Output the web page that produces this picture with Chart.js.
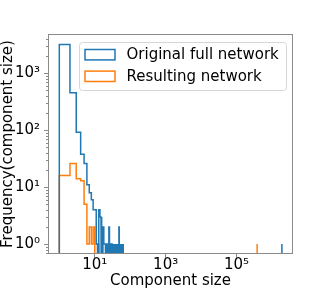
<!DOCTYPE html>
<html>
<head>
<meta charset="utf-8">
<script src="https://cdn.jsdelivr.net/npm/chart.js@4"></script>
<style>
  body { margin: 0; background: #fff; }
  canvas { display: block; }
</style>
</head>
<body>
<canvas id="chart" width="314" height="290"></canvas>
<script>
// component sizes (integer bins, left edge) and how often each occurs
const originalSizes  = [1, 2, 3, 4, 5, 6, 7, 8, 9, 10, 11, 13, 14, 15, 17, 18, 19, 21, 22, 25, 26, 28, 30, 33, 35, 38, 41, 44, 48, 52, 57, 63, 1900000];
const originalCounts = [3200, 457, 92, 38, 26, 11, 8, 6, 4, 4, 1, 4, 3, 1, 2, 1, 1, 1, 1, 2, 1, 1, 1, 1, 1, 1, 1, 1, 2, 1, 1, 1, 1];

const resultSizes  = [1, 2, 3, 4, 5, 6, 7, 8, 9, 12, 380000];
const resultCounts = [16, 26, 14, 13, 5, 1, 2, 1, 2, 1, 1];

const seriesNames = ['Original full network', 'Resulting network'];
const seriesColors = ['#1f77b4', '#ff7f0e'];

const yTickValues = [1, 10, 100, 1000];
const xTickValues = [10, 1000, 100000];

const SUP = { '0': '\u2070', '1': '\u00b9', '2': '\u00b2', '3': '\u00b3', '4': '\u2074', '5': '\u2075', '6': '\u2076' };
const FONT = 'DejaVu Sans';
const SPINE = '#8a8a8a';

// turn histogram bins into a step outline (like histtype='step')
function stepOutline(sizes, counts) {
    const floor = 1e-3; // below the axis, gets clipped
    const pts = [];
    let prevEnd = null;
    sizes.forEach((s, i) => {
        const end = s + 1;
        if (prevEnd === null || s !== prevEnd) {
            if (prevEnd !== null) pts.push({ x: prevEnd, y: floor });
            pts.push({ x: s, y: floor });
        }
        pts.push({ x: s, y: counts[i] });
        pts.push({ x: end, y: counts[i] });
        prevEnd = end;
    });
    pts.push({ x: prevEnd, y: floor });
    return pts;
}

function powLabel(v) {
    const e = Math.round(Math.log10(v));
    return '10' + String(e).split('').map(d => SUP[d]).join('');
}

// frame + minor ticks, drawn on top of the data like matplotlib spines
const framePlugin = {
    id: 'frame',
    afterDatasetsDraw(chart) {
        const { ctx, chartArea: a, scales } = chart;
        ctx.save();
        ctx.strokeStyle = SPINE;
        ctx.lineWidth = 1;
        ctx.strokeRect(a.left + 0.5, a.top + 0.5, a.right - a.left - 1, a.bottom - a.top - 1);
        // y minor ticks
        const y = scales.y;
        ctx.beginPath();
        for (let d = -1; d <= 3; d++) {
            for (let m = 2; m <= 9; m++) {
                const v = m * Math.pow(10, d);
                if (v < y.min || v > y.max) continue;
                const py = Math.round(y.getPixelForValue(v)) + 0.5;
                ctx.moveTo(a.left, py);
                ctx.lineTo(a.left - 2, py);
            }
        }
        ctx.stroke();
        ctx.restore();
    }
};

// legend box in the upper right of the axes
const legendPlugin = {
    id: 'boxLegend',
    afterDraw(chart) {
        const { ctx } = chart;
        const box = { x: 79.5, y: 42.5, w: 207, h: 48 };
        ctx.save();
        ctx.beginPath();
        ctx.roundRect(box.x, box.y, box.w, box.h, 3);
        ctx.fillStyle = 'rgba(255,255,255,0.8)';
        ctx.fill();
        ctx.strokeStyle = '#d6d6d6';
        ctx.lineWidth = 1;
        ctx.stroke();

        chart.data.datasets.forEach((ds, i) => {
            const cy = 54.7 + i * 21.6;
            ctx.strokeStyle = ds.borderColor;
            ctx.lineWidth = 1.5;
            ctx.strokeRect(85, cy - 5.2, 30, 10.4);
            ctx.fillStyle = '#000';
            ctx.font = '15px "' + FONT + '"';
            ctx.textAlign = 'left';
            ctx.textBaseline = 'middle';
            ctx.fillText(ds.label, 126.5, cy + 0.5);
        });
        ctx.restore();
    }
};

Chart.defaults.font.family = FONT;
Chart.defaults.font.size = 15;
Chart.defaults.color = '#000';

new Chart(document.getElementById('chart'), {
    type: 'line',
    data: {
        datasets: [
            {
                label: seriesNames[0],
                data: stepOutline(originalSizes, originalCounts),
                borderColor: seriesColors[0],
                borderWidth: 1.5,
                pointRadius: 0,
                fill: false,
                tension: 0
            },
            {
                label: seriesNames[1],
                data: stepOutline(resultSizes, resultCounts),
                borderColor: seriesColors[1],
                borderWidth: 1.5,
                pointRadius: 0,
                fill: false,
                tension: 0
            }
        ]
    },
    options: {
        responsive: false,
        animation: false,
        devicePixelRatio: 1,
        parsing: false,
        layout: { padding: { left: 0, top: 34, right: 21, bottom: 0 } },
        plugins: {
            legend: { display: false },
            tooltip: { enabled: false }
        },
        scales: {
            x: {
                type: 'logarithmic',
                min: 0.48,
                max: 3.9e6,
                afterBuildTicks: scale => { scale.ticks = xTickValues.map(v => ({ value: v })); },
                afterFit: scale => { scale.height = 36; },
                border: { display: false },
                grid: { drawOnChartArea: false, drawTicks: true, tickLength: 4, tickColor: SPINE },
                ticks: {
                    autoSkip: false,
                    maxRotation: 0,
                    padding: 0,
                    font: { size: 15, lineHeight: 1 },
                    callback: v => powLabel(v)
                },
                title: {
                    display: true,
                    text: 'Component size',
                    font: { size: 15, lineHeight: 1 },
                    padding: { top: 0, bottom: 1.5 }
                }
            },
            y: {
                type: 'logarithmic',
                min: 0.67,
                max: 4900,
                afterBuildTicks: scale => { scale.ticks = yTickValues.map(v => ({ value: v })); },
                afterFit: scale => { scale.width = 48; },
                border: { display: false },
                grid: { drawOnChartArea: false, drawTicks: true, tickLength: 4, tickColor: SPINE },
                ticks: {
                    autoSkip: false,
                    padding: 4,
                    font: { size: 15, lineHeight: 1 },
                    callback: v => powLabel(v)
                },
                title: {
                    display: true,
                    text: 'Frequency(component size)',
                    font: { size: 15, lineHeight: 1 },
                    padding: { top: 1, bottom: 0 }
                }
            }
        }
    },
    plugins: [framePlugin, legendPlugin]
});
</script>
</body>
</html>
